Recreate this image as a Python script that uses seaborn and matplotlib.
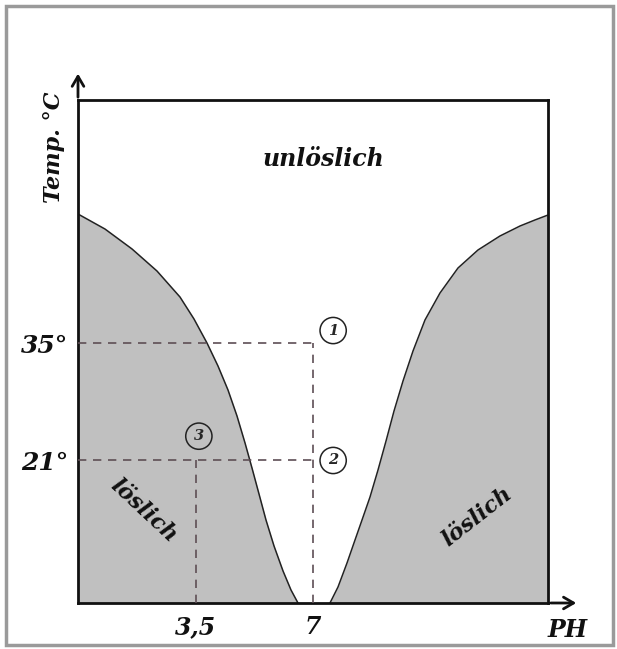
import matplotlib
matplotlib.use("Agg")
import matplotlib.pyplot as plt
import seaborn as sns
import pandas as pd
from matplotlib.patches import Rectangle

# ---- data ----
left_ph = [0.0, 0.804, 1.609, 2.353, 3.038, 3.455, 3.843, 4.170, 4.468, 4.736, 4.975, 5.183,
           5.392, 5.600, 5.839, 6.107, 6.345, 6.553]
left_t = [50.40, 48.61, 46.23, 43.60, 40.50, 37.88, 35.01, 32.27, 29.41, 26.31, 23.09, 20.10,
          17.00, 13.90, 10.80, 7.82, 5.55, 4.0]
right_ph = [7.506, 7.745, 8.013, 8.251, 8.460, 8.698, 8.936, 9.175, 9.413, 9.681, 9.979, 10.336,
            10.783, 11.319, 11.915, 12.570, 13.166, 13.613, 14.0]
right_t = [4.0, 5.91, 8.77, 11.51, 13.90, 16.64, 19.86, 23.32, 26.90, 30.48, 34.06, 37.76,
           40.98, 43.96, 46.11, 47.78, 48.97, 49.69, 50.28]

xtick_vals = [3.5, 7]
xtick_labels = ["3,5", "7"]
ytick_vals = [21, 35]
ytick_labels = ["21°", "35°"]

markers = [("1", 7.6, 36.5), ("2", 7.6, 21.0), ("3", 3.6, 23.9)]

curve = pd.DataFrame({
    "ph": left_ph + right_ph,
    "temp": left_t + right_t,
    "side": ["L"] * len(left_ph) + ["R"] * len(right_ph),
})

sns.set_theme(style="white")
plt.rcParams["font.family"] = ["DejaVu Serif"]

fig = plt.figure(figsize=(6.17, 6.49), dpi=100)
ax = fig.add_axes([78 / 617, 46 / 649, 470 / 617, 503 / 649])
ax.set_xlim(0, 14)
ax.set_ylim(4, 64)

ax.fill_between(curve["ph"], 4, curve["temp"], color="#c0c0c0", lw=0, zorder=1)
sns.lineplot(data=curve, x="ph", y="temp", units="side", estimator=None,
             color="#222222", lw=1.1, sort=False, ax=ax, zorder=2,
             solid_joinstyle="round")

dash_col = "#5e4e55"
dkw = dict(color=dash_col, lw=1.2, dashes=(5, 4), zorder=3)
ax.plot([0, 7], [35, 35], **dkw)
ax.plot([7, 7], [4, 35], **dkw)
ax.plot([0, 7], [21, 21], **dkw)
ax.plot([3.5, 3.5], [4, 21], **dkw)

for lab, x, y in markers:
    ax.text(x, y, lab, ha="center", va="center", fontsize=10.5, fontweight="bold",
            fontstyle="italic", zorder=5,
            bbox=dict(boxstyle="circle,pad=0.42", fc="white" if lab != "3" else "#c0c0c0",
                      ec="#222222", lw=1.1))

tkw = dict(fontweight="bold", fontstyle="italic", color="#111111")
ax.text(7.3, 57.0, "unlöslich", ha="center", va="center", fontsize=17, **tkw)
ax.text(1.95, 15.0, "löslich", ha="center", va="center", fontsize=16, rotation=-43, **tkw)
ax.text(11.9, 14.3, "löslich", ha="center", va="center", fontsize=16, rotation=38, **tkw)

ax.set_xticks(xtick_vals)
ax.set_xticklabels(xtick_labels, fontsize=17, **tkw)
ax.set_yticks(ytick_vals)
ax.set_yticklabels(ytick_labels, fontsize=18, **tkw)
ax.tick_params(axis="x", length=0, pad=9)
ax.tick_params(axis="y", length=0, pad=7)
ax.set_xlabel("")
ax.set_ylabel("")

for s in ax.spines.values():
    s.set_color("#111111")
    s.set_linewidth(2)
    s.set_visible(True)

ax.annotate("", xy=(1.066, 0), xytext=(1.0, 0), xycoords="axes fraction",
            arrowprops=dict(arrowstyle="->,head_length=0.6,head_width=0.35", lw=2, color="#111111"),
            annotation_clip=False)
ax.annotate("", xy=(0, 1.058), xytext=(0, 1.0), xycoords="axes fraction",
            arrowprops=dict(arrowstyle="->,head_length=0.6,head_width=0.35", lw=2, color="#111111"),
            annotation_clip=False)

fig.text(568 / 617, 1 - 630 / 649, "PH", ha="center", va="center", fontsize=17, **tkw)
fig.text(54 / 617, 1 - 147 / 649, "Temp. °C", ha="center", va="center", rotation=90, fontsize=16, **tkw)

fig.patches.append(Rectangle((6 / 617, 4 / 649), 607 / 617, 639 / 649, transform=fig.transFigure,
                             fill=False, ec="#9a9a9a", lw=2.5, zorder=0))

fig.savefig("out.png", dpi=100)
